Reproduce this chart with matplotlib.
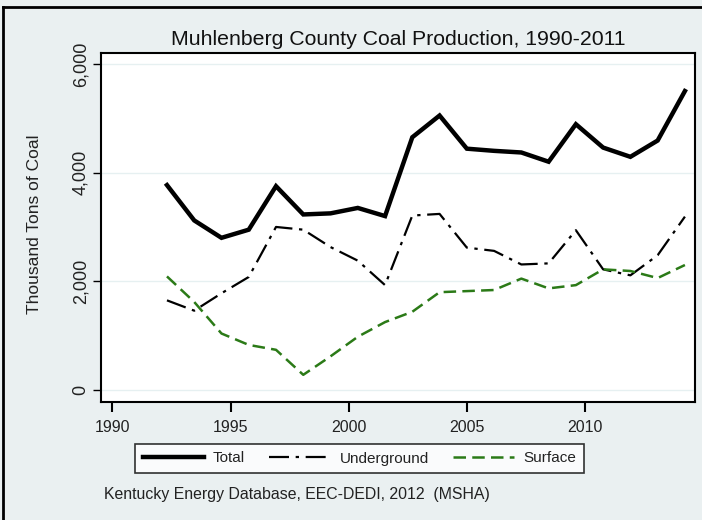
import numpy as np
import matplotlib
matplotlib.use("Agg")
from matplotlib import pyplot as plt
from matplotlib.lines import Line2D
from matplotlib.ticker import FuncFormatter

plt.rcParams['font.family'] = ['Liberation Sans', 'DejaVu Sans']

years = np.arange(1992, 2012)
total = [3770, 3120, 2800, 2950, 3750, 3230, 3250, 3350, 3200, 4650,
         5050, 4440, 4400, 4370, 4200, 4890, 4460, 4290, 4590, 5500]
underground = [1650, 1460, 1780, 2080, 3000, 2950, 2630, 2380, 1930, 3210,
               3240, 2620, 2560, 2310, 2330, 2940, 2220, 2110, 2480, 3190]
surface = [2090, 1620, 1040, 830, 740, 280, 620, 980, 1250, 1440,
           1800, 1820, 1840, 2050, 1870, 1930, 2220, 2190, 2060, 2300]

xtick_labels = [1990, 1995, 2000, 2005, 2010]
xtick_pos = np.linspace(1990, 2007.33, len(xtick_labels))
ytick_vals = [0, 2000, 4000, 6000]

bg = '#eaf0f1'
green = '#2b7a17'
txt = '#222222'

fig = plt.figure(figsize=(7.02, 5.20), dpi=100, facecolor=bg)
ax = fig.add_axes([101/702, 1 - 402/520, 594/702, 349/520])
ax.set_facecolor('white')

ax.plot(years, total, color='black', lw=3.2, solid_joinstyle='miter', label='Total')
ax.plot(years, underground, color='black', lw=1.6, dashes=(9, 3, 1.5, 3), label='Underground')
ax.plot(years, surface, color=green, lw=1.8, dashes=(5, 2.5), label='Surface')

ax.set_xlim(1989.58, 2011.37)
ax.set_ylim(-220, 6200)
ax.set_xticks(xtick_pos)
ax.set_xticklabels([str(v) for v in xtick_labels], fontsize=11.5, color=txt)
ax.set_yticks(ytick_vals)
ax.yaxis.set_major_formatter(FuncFormatter(lambda v, p: f'{int(v):,}'))
for lab in ax.get_yticklabels():
    lab.set_rotation(90)
    lab.set_va('center')
ax.tick_params(axis='y', labelsize=13, labelcolor=txt, length=6, width=1, pad=2.5)
ax.tick_params(axis='x', length=7, width=1.5, pad=6)
ax.grid(axis='y', color='#e6f0f1', lw=1)
ax.set_axisbelow(True)
for s in ax.spines.values():
    s.set_linewidth(1.5)
    s.set_color('black')

ax.set_ylabel('Thousand Tons of Coal', fontsize=12.5, color=txt)
ax.yaxis.set_label_coords(-0.1, 0.51)
ax.set_title('Muhlenberg County Coal Production, 1990-2011', fontsize=15.3, color='#111111', pad=6)

leg = fig.legend(loc='center', bbox_to_anchor=(359.5/702, 1 - 458.5/520), ncol=3,
                 fontsize=11, frameon=True, fancybox=False, edgecolor='black',
                 handlelength=4.0, columnspacing=1.6, handletextpad=0.6,
                 borderpad=0.5)
leg.get_frame().set_linewidth(1.2)
for t in leg.get_texts():
    t.set_color(txt)

fig.text(104/702, 1 - 494/520, 'Kentucky Energy Database, EEC-DEDI, 2012  (MSHA)',
         fontsize=11.4, color=txt, va='center', ha='left')

# frame lines along the top and left edge of the figure
fig.add_artist(Line2D([3/702, 3/702], [0, 1 - 7/520], transform=fig.transFigure, color='black', lw=2))
fig.add_artist(Line2D([3/702, 1], [1 - 7/520, 1 - 7/520], transform=fig.transFigure, color='black', lw=2))

fig.savefig('out.png', dpi=100, facecolor=bg)
